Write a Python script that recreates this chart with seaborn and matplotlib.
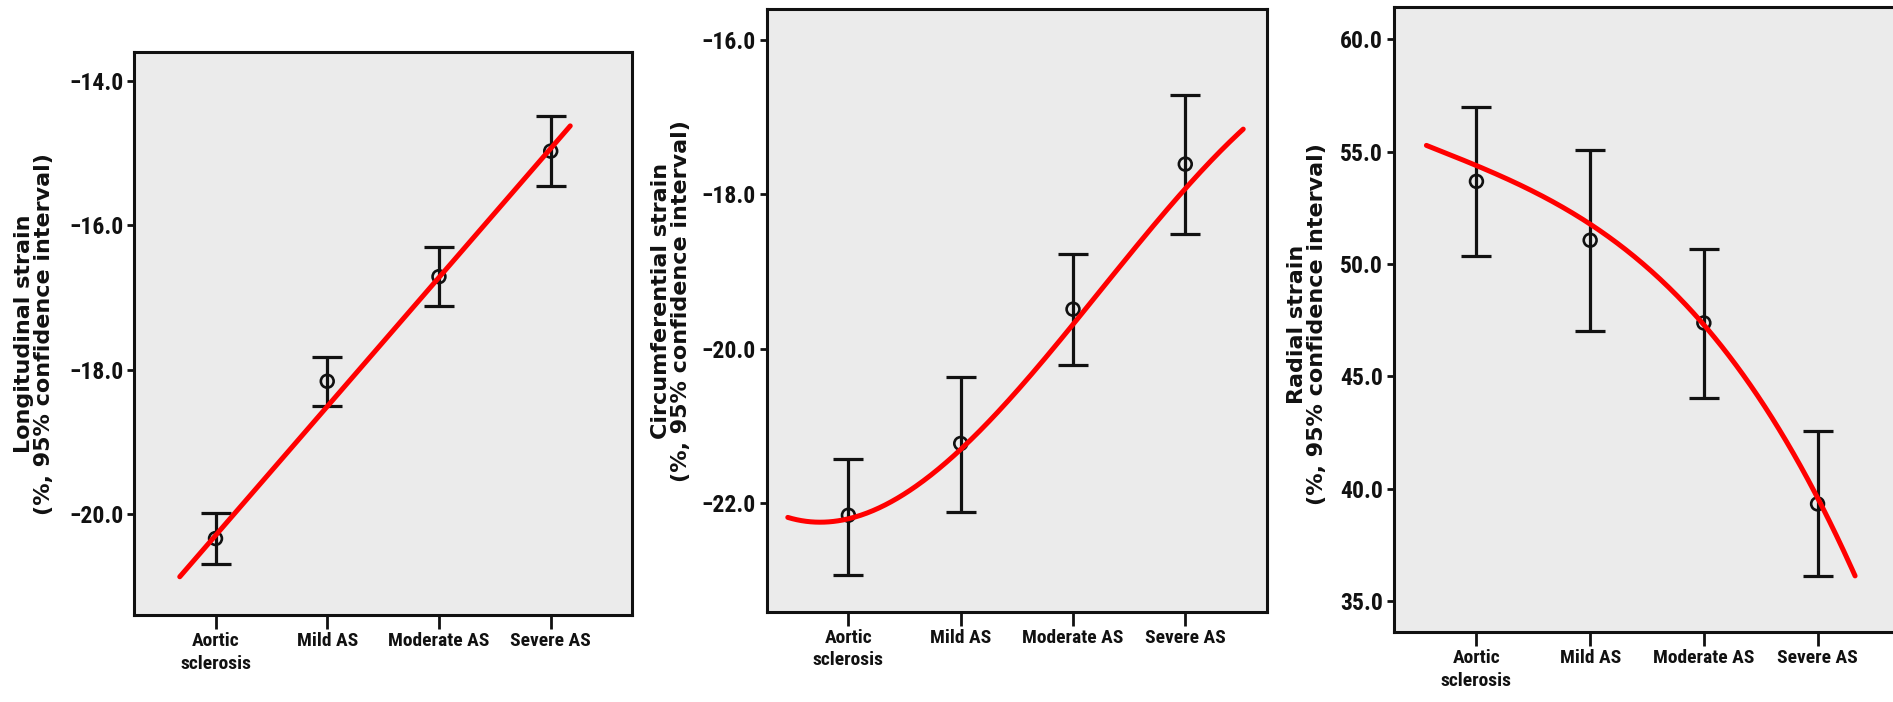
import numpy as np
import matplotlib
matplotlib.use("Agg")
import matplotlib.pyplot as plt
import seaborn as sns

# ---------------- data ----------------
categories = ["Aortic\nsclerosis", "Mild AS", "Moderate AS", "Severe AS"]

long_mean = [-20.34, -18.16, -16.71, -14.97]
long_lo = [-20.69, -18.50, -17.11, -15.45]
long_hi = [-19.99, -17.83, -16.30, -14.48]
long_trend_x = [-0.32, 3.175]
long_trend_y = [-20.87, -14.62]
long_yticks = [-20.0, -18.0, -16.0, -14.0]

circ_mean = [-22.16, -21.23, -19.49, -17.61]
circ_lo = [-22.93, -22.12, -20.21, -18.51]
circ_hi = [-21.43, -20.37, -18.78, -16.71]
circ_trend_x = [-0.54, -0.185, 0.0, 1.0, 2.0, 3.0, 3.516]
circ_trend_y = [-22.16, -22.27, -22.23, -21.29, -19.66, -17.98, -17.13]
circ_yticks = [-22.0, -20.0, -18.0, -16.0]

rad_mean = [53.68, 51.06, 47.38, 39.33]
rad_lo = [50.34, 47.04, 44.06, 36.11]
rad_hi = [56.98, 55.07, 50.66, 42.59]
rad_trend_x = [-0.44, 0.0, 1.0, 2.0, 3.0, 3.33]
rad_trend_y = [55.33, 54.30, 51.78, 47.40, 39.40, 36.25]
rad_yticks = [35.0, 40.0, 45.0, 50.0, 55.0, 60.0]

ylabels = [
    "Longitudinal strain\n(%, 95% confidence interval)",
    "Circumferential strain\n(%, 95% confidence interval)",
    "Radial strain\n(%, 95% confidence interval)",
]

# ---------------- style ----------------
sns.set_style("white")
TICK_FONT = ["Roboto Condensed", "PT Sans Narrow", "Fira Sans Condensed",
             "Asap Condensed", "Barlow Condensed", "DejaVu Sans"]
LABEL_FONT = ["DejaVu Sans"]
plt.rcParams["font.family"] = TICK_FONT
plt.rcParams["font.weight"] = "bold"
plt.rcParams["axes.unicode_minus"] = True

fig = plt.figure(figsize=(18.93, 7.02), dpi=100)
fig.patch.set_facecolor("white")

panels = [
    dict(rect=[0.07105, 0.12393, 0.26266, 0.80157],
         mean=long_mean, lo=long_lo, hi=long_hi,
         tx=long_trend_x, ty=long_trend_y, deg=1,
         ylim=(-21.40, -13.60), yticks=long_yticks,
         ylabel=ylabels[0], lab=(-0.162, 0.5)),
    dict(rect=[0.40518, 0.12863, 0.26397, 0.85855],
         mean=circ_mean, lo=circ_lo, hi=circ_hi,
         tx=circ_trend_x, ty=circ_trend_y, deg=3,
         ylim=(-23.41, -15.60), yticks=circ_yticks,
         ylabel=ylabels[1], lab=(-0.152, 0.515)),
    dict(rect=[0.73640, 0.09972, 0.26730, 0.89074],
         mean=rad_mean, lo=rad_lo, hi=rad_hi,
         tx=rad_trend_x, ty=rad_trend_y, deg=3,
         ylim=(33.63, 61.45), yticks=rad_yticks,
         ylabel=ylabels[2], lab=(-0.133, 0.4926)),
]

x = np.arange(len(categories))

for p in panels:
    ax = fig.add_axes(p["rect"])
    ax.set_facecolor("#ebebeb")
    mean = np.asarray(p["mean"])
    lo = np.asarray(p["lo"])
    hi = np.asarray(p["hi"])

    ax.errorbar(x, mean, yerr=[mean - lo, hi - mean], fmt="none",
                ecolor="#111111", elinewidth=2.3, capsize=10.5, capthick=2.3,
                zorder=2)
    sns.scatterplot(x=x, y=mean, ax=ax, marker="o", s=85,
                    facecolor="none", edgecolor="#111111", linewidth=1.9,
                    zorder=3, legend=False)

    coef = np.polyfit(p["tx"], p["ty"], p["deg"])
    xs = np.linspace(min(p["tx"]), max(p["tx"]), 300)
    sns.lineplot(x=xs, y=np.polyval(coef, xs), ax=ax, color="#ff0000",
                 linewidth=3.6, zorder=4, legend=False)

    ax.set_xlim(-0.725, 3.725)
    ax.set_ylim(*p["ylim"])
    ax.set_xticks(x)
    ax.set_xticklabels(categories, linespacing=1.3)
    ax.set_yticks(p["yticks"])
    ax.set_yticklabels([f"{v:.1f}".replace("-", "\u2212") for v in p["yticks"]])

    ax.tick_params(axis="x", which="major", bottom=True, top=False,
                   direction="out", length=10, width=2, pad=2.5,
                   labelsize=14, colors="#111111")
    ax.tick_params(axis="y", which="major", left=True, right=False,
                   direction="out", length=5, width=2, pad=3,
                   labelsize=17, colors="#111111")
    for lbl in ax.get_xticklabels() + ax.get_yticklabels():
        lbl.set_fontweight("bold")

    for side in ["left", "right", "top", "bottom"]:
        ax.spines[side].set_visible(True)
        ax.spines[side].set_color("#111111")
        ax.spines[side].set_linewidth(2.2)

    ax.set_xlabel("")
    ax.set_ylabel(p["ylabel"], fontsize=16, fontweight="bold",
                  family=LABEL_FONT, linespacing=1.0, color="#111111")
    ax.yaxis.set_label_coords(*p["lab"])
    ax.grid(False)

fig.savefig("out.png", dpi=100, facecolor="white")
